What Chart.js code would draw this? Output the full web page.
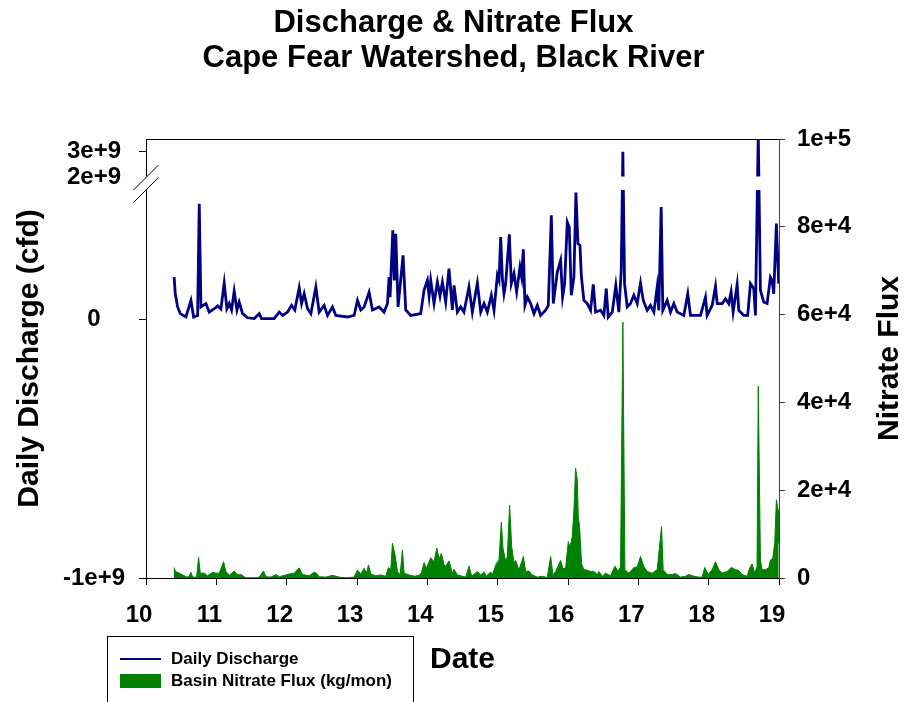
<!DOCTYPE html>
<html>
<head>
<meta charset="utf-8">
<script src="https://cdn.jsdelivr.net/npm/chart.js@4/dist/chart.umd.min.js"></script>
<style>
    body { margin: 0; background: #fff; }
    #wrap { position: relative; width: 907px; height: 702px; overflow: hidden; }
    #legend {
        position: absolute; left: 107px; top: 636px; width: 307px; height: 90px;
        border: 1px solid #000; box-sizing: border-box; padding-top: 11px;
        font: bold 17px "Liberation Sans", Arial, sans-serif; color: #000;
    }
    #legend .row { display: flex; align-items: center; height: 22px; }
    #legend .swatch { width: 41px; margin-left: 12px; margin-right: 10px; }
</style>
</head>
<body>
<div id="wrap">
    <canvas id="fluxChart" width="907" height="702"></canvas>
    <div id="legend"></div>
</div>
<script>
//! data
const titleLines = ['Discharge & Nitrate Flux', 'Cape Fear Watershed, Black River'];
const nAxisTitle = 'Nitrate Flux';

// discharge (cfd), dates in decimal years
const qDates = [
    10.40, 10.416, 10.45, 10.487, 10.568, 10.639, 10.677, 10.734, 10.757, 10.781,
    10.852, 10.899, 10.970, 11.020, 11.065, 11.112, 11.150, 11.183, 11.217, 11.254, 11.293,
    11.325, 11.373, 11.444, 11.539, 11.610, 11.643, 11.823, 11.894, 11.942, 12.013,
    12.070, 12.116, 12.178, 12.212, 12.249, 12.297, 12.344, 12.415, 12.462, 12.533,
    12.581, 12.652, 12.699, 12.865, 12.959, 13.007, 13.054, 13.101, 13.172, 13.220,
    13.314, 13.385, 13.433, 13.456, 13.470, 13.509, 13.530, 13.551, 13.584, 13.655,
    13.693, 13.764, 13.906, 13.953, 14.001, 14.025, 14.048, 14.095, 14.143, 14.180,
    14.214, 14.261, 14.308, 14.356, 14.380, 14.427, 14.474, 14.521, 14.592, 14.640,
    14.711, 14.759, 14.806, 14.853, 14.910, 14.948, 14.996, 15.019, 15.043, 15.067,
    15.090, 15.114, 15.166, 15.194, 15.232, 15.270, 15.317, 15.341, 15.365, 15.388,
    15.422, 15.469, 15.516, 15.564, 15.611, 15.682, 15.720, 15.763, 15.791, 15.848,
    15.895, 15.923, 15.952, 15.990, 16.018, 16.047, 16.084, 16.113, 16.141, 16.170,
    16.189, 16.226, 16.274, 16.321, 16.359, 16.392, 16.463, 16.510, 16.544, 16.572,
    16.629, 16.680, 16.723, 16.757, 16.780, 16.804, 16.842, 16.889, 16.936, 16.984,
    17.031, 17.070, 17.126, 17.173, 17.221, 17.268, 17.291, 17.325, 17.348, 17.410,
    17.457, 17.505, 17.552, 17.647, 17.703, 17.741, 17.884, 17.955, 17.978, 18.050,
    18.097, 18.121, 18.192, 18.239, 18.286, 18.319, 18.348, 18.405, 18.428, 18.499,
    18.555, 18.594, 18.641, 18.665, 18.705, 18.736, 18.783, 18.831, 18.878, 18.902,
    18.925, 18.963, 18.996
];
const qValues = [
    1.63e8, 0.99e8, 0.48e8, 0.22e8, 0.09e8, 0.73e8, 0.09e8, 0.15e8, 4.47e8, 0.48e8,
    0.61e8, 0.28e8, 0.41e8, 0.52e8, 0.40e8, 1.40e8, 0.41e8, 0.61e8, 0.36e8, 1.09e8, 0.36e8,
    0.67e8, 0.22e8, 0.06e8, 0.03e8, 0.22e8, 0.03e8, 0.03e8, 0.28e8, 0.15e8, 0.28e8,
    0.54e8, 0.36e8, 1.22e8, 0.61e8, 0.99e8, 0.41e8, 0.22e8, 1.25e8, 0.28e8, 0.54e8,
    0.15e8, 0.48e8, 0.15e8, 0.09e8, 0.15e8, 0.73e8, 0.36e8, 0.48e8, 1.05e8, 0.36e8,
    0.48e8, 0.28e8, 0.61e8, 1.63e8, 0.86e8, 3.44e8, 1.50e8, 3.31e8, 0.48e8, 2.47e8,
    0.36e8, 0.15e8, 0.22e8, 1.12e8, 1.51e8, 0.90e8, 1.51e8, 0.61e8, 1.44e8, 0.90e8,
    1.44e8, 0.67e8, 1.96e8, 0.36e8, 1.31e8, 0.28e8, 0.48e8, 0.28e8, 1.25e8, 0.28e8,
    1.40e8, 0.28e8, 0.61e8, 0.28e8, 0.93e8, 0.35e8, 1.70e8, 1.51e8, 3.18e8, 1.57e8,
    0.99e8, 1.38e8, 3.29e8, 1.38e8, 1.77e8, 1.06e8, 2.02e8, 1.63e8, 2.71e8, 0.54e8,
    0.86e8, 0.61e8, 0.22e8, 0.54e8, 0.15e8, 0.35e8, 0.54e8, 4.02e8, 0.61e8, 1.83e8,
    2.28e8, 0.86e8, 1.38e8, 3.76e8, 3.57e8, 0.93e8, 1.63e8, 4.90e8, 2.93e8, 2.86e8,
    1.70e8, 0.73e8, 0.61e8, 0.35e8, 1.35e8, 0.28e8, 0.35e8, 0.15e8, 1.19e8, 0.09e8,
    0.28e8, 1.31e8, 0.28e8, 1.89e8, 3.0e9, 1.38e8, 0.48e8, 0.61e8, 0.93e8, 0.61e8,
    1.40e8, 0.73e8, 0.35e8, 0.54e8, 0.28e8, 1.25e8, 0.35e8, 4.34e8, 0.35e8, 0.73e8,
    0.28e8, 0.61e8, 0.28e8, 0.15e8, 0.99e8, 0.15e8, 0.15e8, 0.86e8, 0.15e8, 0.54e8,
    1.28e8, 0.61e8, 0.61e8, 0.80e8, 0.61e8, 1.06e8, 0.28e8, 1.35e8, 0.35e8, 0.15e8,
    0.15e8, 1.38e8, 1.19e8, 0.15e8, 3.7e9, 1.12e8, 0.67e8, 0.61e8, 1.63e8, 1.51e8,
    0.99e8, 3.70e8, 1.38e8
];

// basin nitrate flux (kg/mon)
const nDates = [
    10.393, 10.426, 10.473, 10.521, 10.568, 10.606, 10.639, 10.663, 10.720, 10.748,
    10.772, 10.829, 10.876, 10.947, 10.994, 11.042, 11.103, 11.136, 11.184, 11.255,
    11.302, 11.349, 11.420, 11.563, 11.610, 11.671, 11.705, 11.776, 11.847, 11.894,
    12.036, 12.107, 12.178, 12.225, 12.320, 12.391, 12.424, 12.462, 12.557, 12.652,
    12.746, 12.841, 12.959, 13.007, 13.054, 13.101, 13.135, 13.163, 13.196, 13.267,
    13.338, 13.409, 13.447, 13.480, 13.504, 13.542, 13.575, 13.613, 13.646, 13.670,
    13.741, 13.812, 13.883, 13.916, 13.954, 13.987, 14.048, 14.096, 14.134, 14.167,
    14.200, 14.238, 14.261, 14.309, 14.356, 14.380, 14.427, 14.498, 14.545, 14.593,
    14.631, 14.711, 14.759, 14.806, 14.839, 14.901, 14.924, 14.981, 15.019, 15.052,
    15.076, 15.114, 15.137, 15.170, 15.199, 15.232, 15.256, 15.303, 15.365, 15.398,
    15.445, 15.492, 15.563, 15.634, 15.705, 15.753, 15.786, 15.824, 15.895, 15.928,
    15.966, 16.004, 16.028, 16.061, 16.084, 16.108, 16.132, 16.146, 16.165, 16.193,
    16.226, 16.250, 16.321, 16.368, 16.416, 16.439, 16.487, 16.534, 16.605, 16.667,
    16.714, 16.747, 16.780, 16.809, 16.866, 16.937, 16.984, 17.031, 17.079, 17.126,
    17.197, 17.268, 17.330, 17.353, 17.410, 17.481, 17.529, 17.600, 17.671, 17.718,
    17.789, 17.860, 17.907, 17.945, 17.993, 18.049, 18.097, 18.144, 18.191, 18.262,
    18.324, 18.381, 18.428, 18.475, 18.546, 18.584, 18.617, 18.655, 18.688, 18.705,
    18.736, 18.759, 18.807, 18.854, 18.878, 18.911, 18.939, 18.963, 18.987, 18.996
];
const nValues = [
    2400, 1400, 1100, 700, 300, 200, 1300, 200, 200, 4700,
    1100, 1100, 500, 1300, 1100, 1100, 3700, 1500, 600, 1600,
    700, 800, 50, 50, 200, 1600, 300, 200, 800, 300,
    900, 1100, 2300, 800, 500, 1300, 1100, 300, 200, 600,
    200, 50, 200, 1800, 900, 2200, 1100, 3000, 900, 500,
    700, 400, 2400, 1900, 7900, 5200, 1500, 700, 6400, 1100,
    700, 400, 600, 1200, 3500, 2200, 4600, 3700, 6800, 4400,
    5600, 3000, 2700, 3900, 1100, 2000, 700, 400, 200, 2700,
    400, 1500, 700, 1400, 400, 1400, 700, 3300, 4100, 12700,
    6800, 3700, 4900, 16600, 7200, 3500, 4000, 1800, 4900, 1500,
    1600, 700, 200, 400, 100, 4900, 700, 1500, 4000, 2200,
    2200, 8300, 7000, 9400, 15500, 25000, 22300, 14000, 11700, 3300,
    1800, 1900, 1500, 1500, 800, 1500, 400, 1100, 500, 2700,
    1500, 2600, 58300, 1900, 1100, 2400, 2500, 4900, 2600, 1500,
    1100, 1900, 11700, 1900, 800, 800, 1000, 200, 400, 800,
    400, 200, 200, 2400, 800, 1900, 3700, 1900, 1100, 1500,
    2400, 1900, 1700, 800, 400, 2300, 3200, 1100, 2600, 43700,
    4100, 1900, 1900, 2300, 4100, 4500, 7900, 17800, 15500, 7900
];

// axes
const xTicks = [10, 11, 12, 13, 14, 15, 16, 17, 18, 19];
const qTicks = [-1e9, 0, 2e9, 3e9];
const qTickLabels = ['-1e+9', '0', '2e+9', '3e+9'];
const nTicks = [0, 2e4, 4e4, 6e4, 8e4, 1e5];
const nTickLabels = ['0', '2e+4', '4e+4', '6e+4', '8e+4', '1e+5'];

// axis break on discharge axis
const qBreakLow = 0.5e9;
const qBreakHigh = 2e9;
const fracLow = 388 / 439;
const fracHigh = 400.5 / 439;

const fontFamily = '"Liberation Sans", Arial, sans-serif';

//! scale with a break
class BrokenLinearScale extends Chart.LinearScale {
    buildTicks() {
        this.start = this.min;
        this.end = this.max;
        return qTicks.map(v => ({ value: v }));
    }
    toDecimal(v) {
        if (v <= qBreakLow) return (v - this.min) / (qBreakLow - this.min) * fracLow;
        if (v >= qBreakHigh) return fracHigh + (v - qBreakHigh) / (this.max - qBreakHigh) * (1 - fracHigh);
        return fracLow + (v - qBreakLow) / (qBreakHigh - qBreakLow) * (fracHigh - fracLow);
    }
    getPixelForValue(value) {
        if (value === null || value === undefined) return NaN;
        return this.getPixelForDecimal(this.toDecimal(value));
    }
    getValueForPixel(pixel) {
        const d = this.getDecimalForPixel(pixel);
        if (d <= fracLow) return this.min + d / fracLow * (qBreakLow - this.min);
        if (d >= fracHigh) return qBreakHigh + (d - fracHigh) / (1 - fracHigh) * (this.max - qBreakHigh);
        return qBreakLow + (d - fracLow) / (fracHigh - fracLow) * (qBreakHigh - qBreakLow);
    }
}
BrokenLinearScale.id = 'brokenLinear';
BrokenLinearScale.defaults = Chart.LinearScale.defaults;
Chart.register(BrokenLinearScale);

//! white gap + break marks
const axisBreak = {
    id: 'axisBreak',
    afterDraw(chart) {
        const { ctx, chartArea } = chart;
        const yq = chart.scales.yQ;
        const yTop = yq.getPixelForValue(qBreakHigh);
        const yBot = yq.getPixelForValue(qBreakLow);
        ctx.save();
        ctx.fillStyle = '#fff';
        ctx.fillRect(chartArea.left - 8, yTop - 1, chartArea.right - chartArea.left + 7, yBot - yTop + 1);
        ctx.strokeStyle = '#000';
        ctx.lineWidth = 1;
        [yTop, yBot].forEach(y => {
            ctx.beginPath();
            ctx.moveTo(chartArea.left - 12.5, y + 12.5);
            ctx.lineTo(chartArea.left + 12.5, y - 12.5);
            ctx.stroke();
        });
        ctx.restore();
    }
};

//! right axis title, read bottom to top
const rightTitle = {
    id: 'rightTitle',
    afterDraw(chart) {
        const { ctx } = chart;
        const s = chart.scales.yN;
        ctx.save();
        ctx.translate(s.right - 17, (s.top + s.bottom) / 2);
        ctx.rotate(-Math.PI / 2);
        ctx.textAlign = 'center';
        ctx.textBaseline = 'middle';
        ctx.fillStyle = '#000';
        ctx.font = 'bold 30px ' + fontFamily;
        ctx.fillText(nAxisTitle, 0, 0);
        ctx.restore();
    }
};

Chart.defaults.font.family = fontFamily;
Chart.defaults.font.weight = 'bold';
Chart.defaults.color = '#000';

const tickFont = { size: 24, weight: 'bold' };
const axisTitleFont = { size: 30, weight: 'bold', lineHeight: 1.2 };

const ctx = document.getElementById('fluxChart');
const fluxChart = new Chart(ctx, {
    type: 'line',
    data: {
        datasets: [
            {
                label: 'Daily Discharge',
                data: qDates.map((d, i) => ({ x: d, y: qValues[i] })),
                yAxisID: 'yQ',
                borderColor: '#000080',
                backgroundColor: '#000080',
                borderWidth: 2.8,
                pointRadius: 0,
                tension: 0,
                fill: false,
                clip: 0,
            },
            {
                label: 'Basin Nitrate Flux (kg/mon)',
                data: nDates.map((d, i) => ({ x: d, y: nValues[i] })),
                yAxisID: 'yN',
                borderColor: '#008000',
                backgroundColor: '#008000',
                borderWidth: 1,
                pointRadius: 0,
                tension: 0,
                fill: 'origin',
                clip: 0,
            },
        ]
    },
    options: {
        responsive: false,
        animation: false,
        devicePixelRatio: 1,
        layout: { padding: 0 },
        plugins: {
            legend: { display: false },
            tooltip: { enabled: false },
            title: {
                display: true,
                text: titleLines,
                color: '#000',
                font: { size: 31, weight: 'bold', lineHeight: 35 / 31 },
                padding: { top: 6, bottom: 63 },
            },
        },
        scales: {
            x: {
                type: 'linear',
                position: 'bottom',
                min: 10,
                max: 19,
                afterBuildTicks: (scale) => { scale.ticks = xTicks.map(v => ({ value: v })); },
                afterFit: (scale) => { scale.height = 124; },
                grid: { display: true, drawOnChartArea: false, drawTicks: true, tickLength: 7, tickColor: '#000' },
                border: { display: true, color: '#000', width: 1 },
                ticks: { font: tickFont, padding: 16, labelOffset: -7, autoSkip: false, maxRotation: 0 },
                title: { display: true, text: 'Date', font: axisTitleFont, padding: { top: 0, bottom: 24 } },
            },
            x2: {
                type: 'linear',
                position: 'top',
                min: 10,
                max: 19,
                grid: { display: false, drawTicks: false },
                border: { display: true, color: '#000', width: 1 },
                ticks: { display: false },
            },
            yQ: {
                type: 'brokenLinear',
                position: 'left',
                min: -1e9,
                max: 3.5e9,
                afterFit: (scale) => { scale.width = 146; },
                grid: { display: true, drawOnChartArea: false, drawTicks: true, tickLength: 7, tickColor: '#000' },
                border: { display: true, color: '#000', width: 1 },
                ticks: {
                    font: tickFont,
                    padding: 14,
                    crossAlign: 'center',
                    autoSkip: false,
                    callback: (value) => qTickLabels[qTicks.indexOf(value)],
                },
                title: { display: true, text: 'Daily Discharge (cfd)', font: axisTitleFont, padding: { top: 12, bottom: 0 } },
            },
            yN: {
                type: 'linear',
                position: 'right',
                min: 0,
                max: 1e5,
                afterBuildTicks: (scale) => { scale.ticks = nTicks.map(v => ({ value: v })); },
                afterFit: (scale) => { scale.width = 128; },
                grid: { display: true, drawOnChartArea: false, drawTicks: true, tickLength: 6, tickColor: '#333' },
                border: { display: true, color: '#444', width: 1 },
                ticks: {
                    font: tickFont,
                    padding: 12,
                    autoSkip: false,
                    callback: (value) => nTickLabels[nTicks.indexOf(value)],
                },
                title: { display: false },
            },
        }
    },
    plugins: [axisBreak, rightTitle]
});

//! html legend
const legend = document.getElementById('legend');
fluxChart.data.datasets.forEach((ds) => {
    const row = document.createElement('div');
    row.className = 'row';
    const swatch = document.createElement('span');
    swatch.className = 'swatch';
    if (ds.fill) {
        swatch.style.height = '14px';
        swatch.style.background = ds.backgroundColor;
    } else {
        swatch.style.height = '0';
        swatch.style.borderTop = '2px solid ' + ds.borderColor;
    }
    const text = document.createElement('span');
    text.textContent = ds.label;
    row.appendChild(swatch);
    row.appendChild(text);
    legend.appendChild(row);
});
</script>
</body>
</html>
